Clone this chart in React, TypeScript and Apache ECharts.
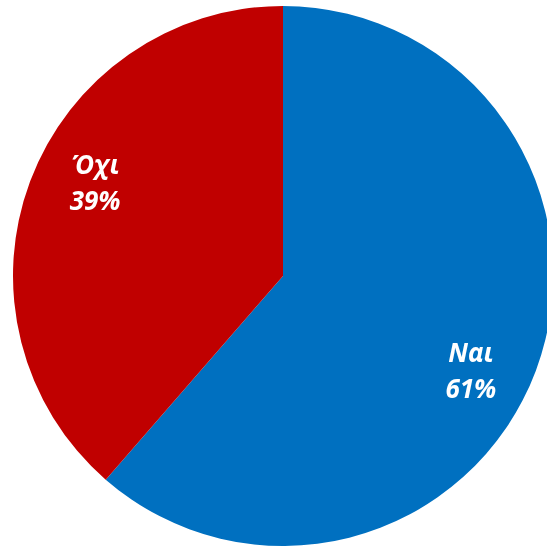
import React, { useEffect, useRef } from "react";
import * as echarts from "echarts";

const categories = ["Ναι", "Όχι"];
const values = [61.4, 38.6];
const colors = ["#0070C0", "#C00000"];

export default function App() {
  const ref = useRef<HTMLDivElement>(null);
  useEffect(() => {
    if (!ref.current) return;
    const chart = echarts.init(ref.current, null, { renderer: "svg" });
    const data = categories.map((name, i) => ({
      name,
      value: values[i],
      itemStyle: { color: colors[i] },
    }));
    chart.setOption({
      animation: false,
      series: [
        {
          type: "pie",
          center: [283, 276],
          radius: [0, 270],
          startAngle: 90,
          clockwise: true,
          silent: true,
          label: { show: false },
          labelLine: { show: false },
          itemStyle: { borderWidth: 0 },
          data,
        },
        {
          type: "pie",
          center: [283, 276],
          radius: [144, 270],
          startAngle: 84,
          clockwise: true,
          silent: true,
          percentPrecision: 0,
          itemStyle: { color: "transparent", borderWidth: 0 },
          labelLine: { show: false },
          label: {
            show: true,
            position: "inside",
            formatter: "{b}\n{d}%",
            color: "#ffffff",
            fontFamily: "Noto Sans",
            fontWeight: "bold",
            fontStyle: "italic",
            fontSize: 26,
            lineHeight: 36,
            align: "center",
          },
          data: categories.map((name, i) => ({ name, value: values[i] })),
        },
      ],
    });
    return () => chart.dispose();
  }, []);
  return (
    <div
      ref={ref}
      style={{ position: "fixed", left: 0, top: 0, width: 547, height: 546 }}
    />
  );
}
